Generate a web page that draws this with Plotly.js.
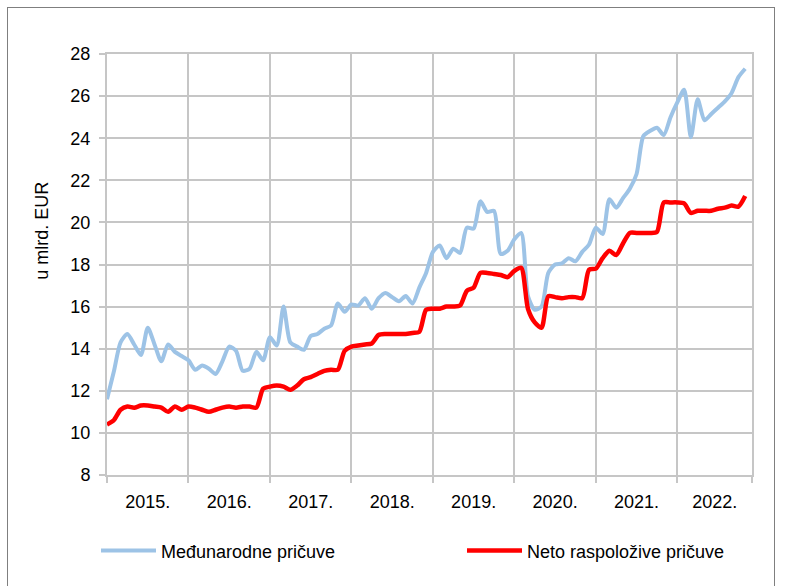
<!DOCTYPE html>
<html>
<head>
<meta charset="utf-8">
<script src="https://cdn.plot.ly/plotly-3.0.1.min.js"></script>
<style>
  html, body { margin: 0; padding: 0; background: #ffffff; }
  #frame { position: absolute; left: 7px; top: 7px; width: 768px; height: 600px; border: 1px solid #7f7f7f; box-sizing: border-box; }
  #chart { position: absolute; left: 0; top: 0; width: 785px; height: 586px; }
</style>
</head>
<body>
<div id="frame"></div>
<div id="chart"></div>
<script>
// Year labels (category groups, 12 months each; last year ends Nov 2022)
const years = ['2015.', '2016.', '2017.', '2018.', '2019.', '2020.', '2021.', '2022.'];

// Međunarodne pričuve, monthly, Jan 2015 - Nov 2022 (mlrd. EUR)
const medjunarodne2015 = [11.6, 12.9, 14.3, 14.7, 14.2, 13.7, 15.0, 14.2, 13.4, 14.2, 13.85, 13.65];
const medjunarodne2016 = [13.45, 13.0, 13.2, 13.05, 12.8, 13.4, 14.1, 13.9, 12.95, 13.05, 13.85, 13.45];
const medjunarodne2017 = [14.55, 14.15, 16.0, 14.3, 14.1, 13.95, 14.6, 14.7, 14.95, 15.1, 16.15, 15.75];
const medjunarodne2018 = [16.1, 16.05, 16.4, 15.9, 16.4, 16.65, 16.45, 16.25, 16.5, 16.15, 16.9, 17.6];
const medjunarodne2019 = [18.6, 18.9, 18.3, 18.75, 18.55, 19.75, 19.7, 21.0, 20.5, 20.55, 18.5, 18.65];
const medjunarodne2020 = [19.2, 19.5, 16.5, 15.85, 16.0, 17.6, 18.0, 18.05, 18.3, 18.15, 18.6, 18.95];
const medjunarodne2021 = [19.75, 19.45, 21.1, 20.7, 21.15, 21.6, 22.3, 24.1, 24.35, 24.5, 24.15, 25.0];
const medjunarodne2022 = [25.7, 26.3, 24.05, 25.85, 24.85, 25.15, 25.45, 25.75, 26.15, 26.9, 27.3];

// Neto raspoložive pričuve, monthly, Jan 2015 - Nov 2022 (mlrd. EUR)
const neto2015 = [10.4, 10.6, 11.1, 11.25, 11.2, 11.3, 11.3, 11.25, 11.2, 11.0, 11.25, 11.1];
const neto2016 = [11.25, 11.2, 11.1, 11.0, 11.1, 11.2, 11.25, 11.2, 11.25, 11.25, 11.2, 12.1];
const neto2017 = [12.2, 12.25, 12.2, 12.05, 12.25, 12.55, 12.65, 12.8, 12.95, 13.0, 13.0, 13.9];
const neto2018 = [14.1, 14.15, 14.2, 14.25, 14.65, 14.7, 14.7, 14.7, 14.7, 14.75, 14.8, 15.85];
const neto2019 = [15.9, 15.9, 16.0, 16.0, 16.05, 16.75, 16.9, 17.6, 17.6, 17.55, 17.5, 17.4];
const neto2020 = [17.7, 17.85, 15.9, 15.25, 15.0, 16.5, 16.45, 16.4, 16.45, 16.45, 16.4, 17.75];
const neto2021 = [17.8, 18.3, 18.65, 18.45, 19.0, 19.5, 19.5, 19.5, 19.5, 19.55, 20.95, 20.95];
const neto2022 = [20.95, 20.9, 20.45, 20.55, 20.55, 20.55, 20.65, 20.7, 20.8, 20.75, 21.25];

const seriesNames = ['Međunarodne pričuve', 'Neto raspoložive pričuve'];

const medjunarodne = [].concat(medjunarodne2015, medjunarodne2016, medjunarodne2017, medjunarodne2018,
  medjunarodne2019, medjunarodne2020, medjunarodne2021, medjunarodne2022);
const neto = [].concat(neto2015, neto2016, neto2017, neto2018, neto2019, neto2020, neto2021, neto2022);

// month index positions on the category axis
const monthIdx = medjunarodne.map((_, i) => i);
const nCats = 96; // category slots Jan 2015 .. Dec 2022
const axisEnd = nCats - 1;

// year boundaries and label centres
const boundaries = years.map((_, i) => i * 12).concat([axisEnd]);
const labelPos = years.map((_, i) => (boundaries[i] + boundaries[i + 1]) / 2);

const font = { family: 'Liberation Sans, Arial, sans-serif', size: 18, color: '#000000' };
const gridColor = '#c6c6c6';

const traces = [
  {
    x: monthIdx, y: medjunarodne, name: seriesNames[0], type: 'scatter', mode: 'lines',
    line: { color: '#9dc3e6', width: 4, shape: 'spline', smoothing: 0.7 },
    hoverinfo: 'skip', legend: 'legend'
  },
  {
    x: monthIdx, y: neto, name: seriesNames[1], type: 'scatter', mode: 'lines',
    line: { color: '#ff0000', width: 4.5, shape: 'spline', smoothing: 0.7 },
    hoverinfo: 'skip', legend: 'legend2'
  }
];

const legendBase = {
  orientation: 'h', xanchor: 'left', y: -0.18, yanchor: 'middle',
  font: font, itemwidth: 55, bgcolor: 'rgba(0,0,0,0)', borderwidth: 0
};

const layout = {
  width: 785, height: 586,
  margin: { l: 107, r: 33, t: 54, b: 111 },
  paper_bgcolor: 'rgba(0,0,0,0)',
  plot_bgcolor: '#ffffff',
  font: font,
  showlegend: true,
  xaxis: {
    range: [0, axisEnd],
    tickmode: 'array', tickvals: labelPos, ticktext: years,
    showgrid: false, zeroline: false,
    ticks: '', ticklabelstandoff: 9,
    tickfont: font,
    showline: true, linecolor: gridColor, linewidth: 2, mirror: true,
    minor: { tickmode: 'array', tickvals: boundaries, showgrid: true, gridcolor: gridColor, gridwidth: 2,
             ticks: 'outside', ticklen: 6, tickcolor: gridColor, tickwidth: 2 },
    fixedrange: true
  },
  yaxis: {
    range: [8, 28], dtick: 2, tick0: 8,
    showgrid: true, gridcolor: gridColor, gridwidth: 2, zeroline: false,
    ticks: 'outside', ticklen: 6, tickcolor: gridColor, tickwidth: 2,
    tickfont: font, ticklabelstandoff: 5,
    showline: true, linecolor: gridColor, linewidth: 2, mirror: true,
    fixedrange: true
  },
  annotations: [
    {
      text: 'u mlrd. EUR', xref: 'paper', yref: 'paper', x: -0.101, y: 0.58,
      textangle: -90, showarrow: false, font: font, xanchor: 'center', yanchor: 'middle'
    }
  ],
  legend: Object.assign({}, legendBase, { x: (96 - 107) / 645 }),
  legend2: Object.assign({}, legendBase, { x: (462 - 107) / 645 })
};

Plotly.newPlot('chart', traces, layout, { displayModeBar: false, staticPlot: true });
</script>
</body>
</html>
